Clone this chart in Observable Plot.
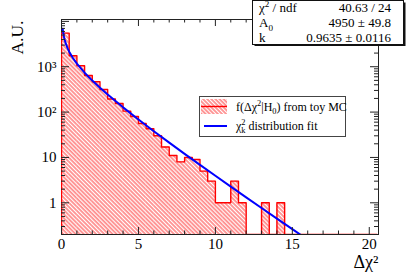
<!DOCTYPE html>
<html><head><meta charset="utf-8">
<script src="https://cdn.jsdelivr.net/npm/d3@7"></script>
<script src="https://cdn.jsdelivr.net/npm/@observablehq/plot@0.6"></script>
<style>
html,body{margin:0;padding:0;background:#fff;}
#chart{width:407px;height:276px;}
svg{overflow:visible}
</style></head><body><div id="chart"></div>
<script>
// ---- data ----
const binStart = [0,0.5,1,1.5,2,2.5,3,3.5,4,4.5,5,5.5,6,6.5,7,7.5,8,8.5,9,9.5,10,10.5,11,11.5,12,12.5,13,13.5,14,14.5,15,15.5,16,16.5,17,17.5,18,18.5,19,19.5,20];
const binWidth = 0.5;
const counts = [5500,1750,1050,640,465,315,195,155,105,80,56,43,30,17,11,8,10,9,5,3,1,1,3,1,0,0,1,0,1,0,0,0,0,0,0,0,0,0,0,0,0];
const fitX = [0.08,0.1,0.15,0.2,0.3,0.4,0.5,0.75,1,1.5,2,2.5,3,4,5,6,7,8,9,10,11,12,13,14,15,16];
const fitY = [6860,6047,4780,4017,3097,2538,2150,1538,1169,738,495,343.6,243.5,127.2,68.7,37.9,21.2,12.02,6.86,3.94,2.27,1.32,0.767,0.448,0.262,0.154];
const xTicks = [0,5,10,15,20];
const xMinorTicks = [1,2,3,4,6,7,8,9,11,12,13,14,16,17,18,19];
const yTicks = [1,10,100,1000];
const yTickLabels = ["1","10","10²","10³"];
const yMajorTicks = [1,10,100,1000,10000];
const yMinorTicks = [0.3,0.4,0.5,0.6,0.7,0.8,0.9,2,3,4,5,6,7,8,9,20,30,40,50,60,70,80,90,200,300,400,500,600,700,800,900,2000,3000,4000,5000,6000,7000,8000,9000];
const statsNames = ["χ^{2} / ndf","A_{0}","k"];
const statsValues = ["40.63 / 24","4950 ± 49.8","0.9635 ± 0.0116"];
const legendLabels = ["f(Δχ^{2}|H_{0}) from toy MC","χ^{2}_{k} distribution fit"];
const xTitle = "Δχ²";
const yTitle = "A.U.";

// ---- layout ----
const W = 407, H = 276;
const mL = 61, mR = 29, mT = 19, mB = 42;
const fW = W - mL - mR, fH = H - mT - mB;
const yMin = 0.2, yMax = 11000;

const bins = binStart.map((x, i) => ({x1: x, x2: x + binWidth, n: counts[i]}));
const filled = bins.filter(d => d.n > 0);
const outline = [{x: binStart[0], y: yMin}];
for (const b of bins) {
  const v = b.n > 0 ? b.n : yMin;
  outline.push({x: b.x1, y: v}, {x: b.x2, y: v});
}
outline.push({x: bins[bins.length - 1].x2, y: yMin});
const fit = fitX.map((x, i) => ({x, y: fitY[i]}));

function rich(sel, str, fs) {
  const parts = str.split(/(\^\{[^}]*\}|_\{[^}]*\})/).filter(s => s.length);
  let off = 0, prevSup = null;
  for (const p of parts) {
    let target = 0, size = fs, text = p, dx = 0;
    if (p.startsWith("^{")) { target = -0.38 * fs; size = 0.7 * fs; text = p.slice(2, -1); }
    else if (p.startsWith("_{")) { target = 0.28 * fs; size = 0.7 * fs; text = p.slice(2, -1); if (prevSup) dx = -prevSup; }
    const t = sel.append("tspan").attr("font-size", size).attr("dy", target - off).text(text);
    if (dx) t.attr("dx", dx);
    off = target;
    prevSup = p.startsWith("^{") ? 0.5 * size * text.length : null;
  }
}

const defsMark = () => {
  const g = d3.create("svg:g");
  const p = g.append("defs").append("pattern").attr("id", "hatch")
    .attr("patternUnits", "userSpaceOnUse").attr("width", 2.9).attr("height", 10)
    .attr("patternTransform", "rotate(-45)");
  p.append("line").attr("x1", 1).attr("x2", 1).attr("y1", 0).attr("y2", 10)
    .attr("stroke", "#ff0000").attr("stroke-width", 0.9).attr("stroke-opacity", 0.9);
  return g.node();
};

const boxesMark = () => {
  const g = d3.create("svg:g").attr("font-family", "Liberation Serif").attr("fill", "black")
    .attr("text-anchor", "start");
  // stats box
  g.append("rect").attr("x", 254.5).attr("y", 2.5).attr("width", 151).attr("height", 43.5).attr("fill", "#111");
  g.append("rect").attr("x", 252.5).attr("y", 0.5).attr("width", 151).attr("height", 44).attr("fill", "white").attr("stroke", "#111");
  statsNames.forEach((s, i) => {
    const t = g.append("text").attr("x", 259).attr("y", 12 + 15 * i).attr("font-size", 13).attr("text-anchor", "start");
    rich(t, s, 13);
  });
  statsValues.forEach((s, i) => {
    g.append("text").attr("x", 391).attr("y", 12 + 15 * i).attr("font-size", 13)
      .attr("text-anchor", "end").text(s);
  });
  // legend box
  g.append("rect").attr("x", 199.5).attr("y", 96.5).attr("width", 146).attr("height", 40)
    .attr("fill", "white").attr("stroke", "#444").attr("stroke-width", 1);
  g.append("rect").attr("x", 201).attr("y", 99).attr("width", 26).attr("height", 15).attr("fill", "url(#hatch)");
  g.append("line").attr("x1", 201).attr("x2", 227).attr("y1", 106.5).attr("y2", 106.5)
    .attr("stroke", "#ff0000").attr("stroke-width", 1.4);
  g.append("line").attr("x1", 204).attr("x2", 227).attr("y1", 126).attr("y2", 126)
    .attr("stroke", "#0000ff").attr("stroke-width", 2);
  legendLabels.forEach((s, i) => {
    const t = g.append("text").attr("x", 236).attr("y", 110.5 + 19.5 * i).attr("font-size", 12).attr("text-anchor", "start");
    rich(t, s, 12);
  });
  return g.node();
};

const chart = Plot.plot({
  width: W, height: H,
  marginLeft: mL, marginRight: mR, marginTop: mT, marginBottom: mB,
  style: {fontFamily: "Liberation Serif", background: "white", color: "black"},
  x: {domain: [0, 20.6]},
  y: {type: "log", domain: [yMin, yMax]},
  marks: [
    defsMark,
    Plot.frame({stroke: "#222", strokeWidth: 1}),
    Plot.rect(filled, {x1: "x1", x2: "x2", y1: yMin, y2: "n", fill: "url(#hatch)", inset: 0}),
    Plot.line(outline, {x: "x", y: "y", stroke: "#ff0000", strokeWidth: 1.4, clip: true}),
    Plot.line(fit, {x: "x", y: "y", stroke: "#0000ff", strokeWidth: 2, clip: true}),
    // x ticks bottom & top
    Plot.ruleX(xTicks, {x: d => d, insetTop: fH - 7, stroke: "#222"}),
    Plot.ruleX(xMinorTicks, {x: d => d, insetTop: fH - 3.5, stroke: "#222"}),
    Plot.ruleX(xTicks, {x: d => d, insetBottom: fH - 7, stroke: "#222"}),
    Plot.ruleX(xMinorTicks, {x: d => d, insetBottom: fH - 3.5, stroke: "#222"}),
    // y ticks left & right
    Plot.ruleY(yMajorTicks, {y: d => d, insetRight: fW - 8, stroke: "#222"}),
    Plot.ruleY(yMinorTicks, {y: d => d, insetRight: fW - 4, stroke: "#222"}),
    Plot.ruleY(yMajorTicks, {y: d => d, insetLeft: fW - 8, stroke: "#222"}),
    Plot.ruleY(yMinorTicks, {y: d => d, insetLeft: fW - 4, stroke: "#222"}),
    Plot.axisX({ticks: xTicks, tickSize: 0, tickPadding: 4, fontSize: 15, tickFormat: d => String(d), label: null}),
    Plot.axisY({ticks: yTicks, tickSize: 0, tickPadding: 5, fontSize: 15, tickFormat: d => yTickLabels[yTicks.indexOf(d)], label: null}),
    Plot.text([xTitle], {text: d => d, frameAnchor: "bottom-right", textAnchor: "end", lineAnchor: "bottom", dy: 33, fontSize: 18}),
    Plot.text([yTitle], {text: d => d, frameAnchor: "top-left", rotate: -90, textAnchor: "end", lineAnchor: "middle", dx: -44.5, dy: 1, fontSize: 17.5}),
    boxesMark
  ]
});
document.getElementById("chart").appendChild(chart);
</script>
</body></html>
